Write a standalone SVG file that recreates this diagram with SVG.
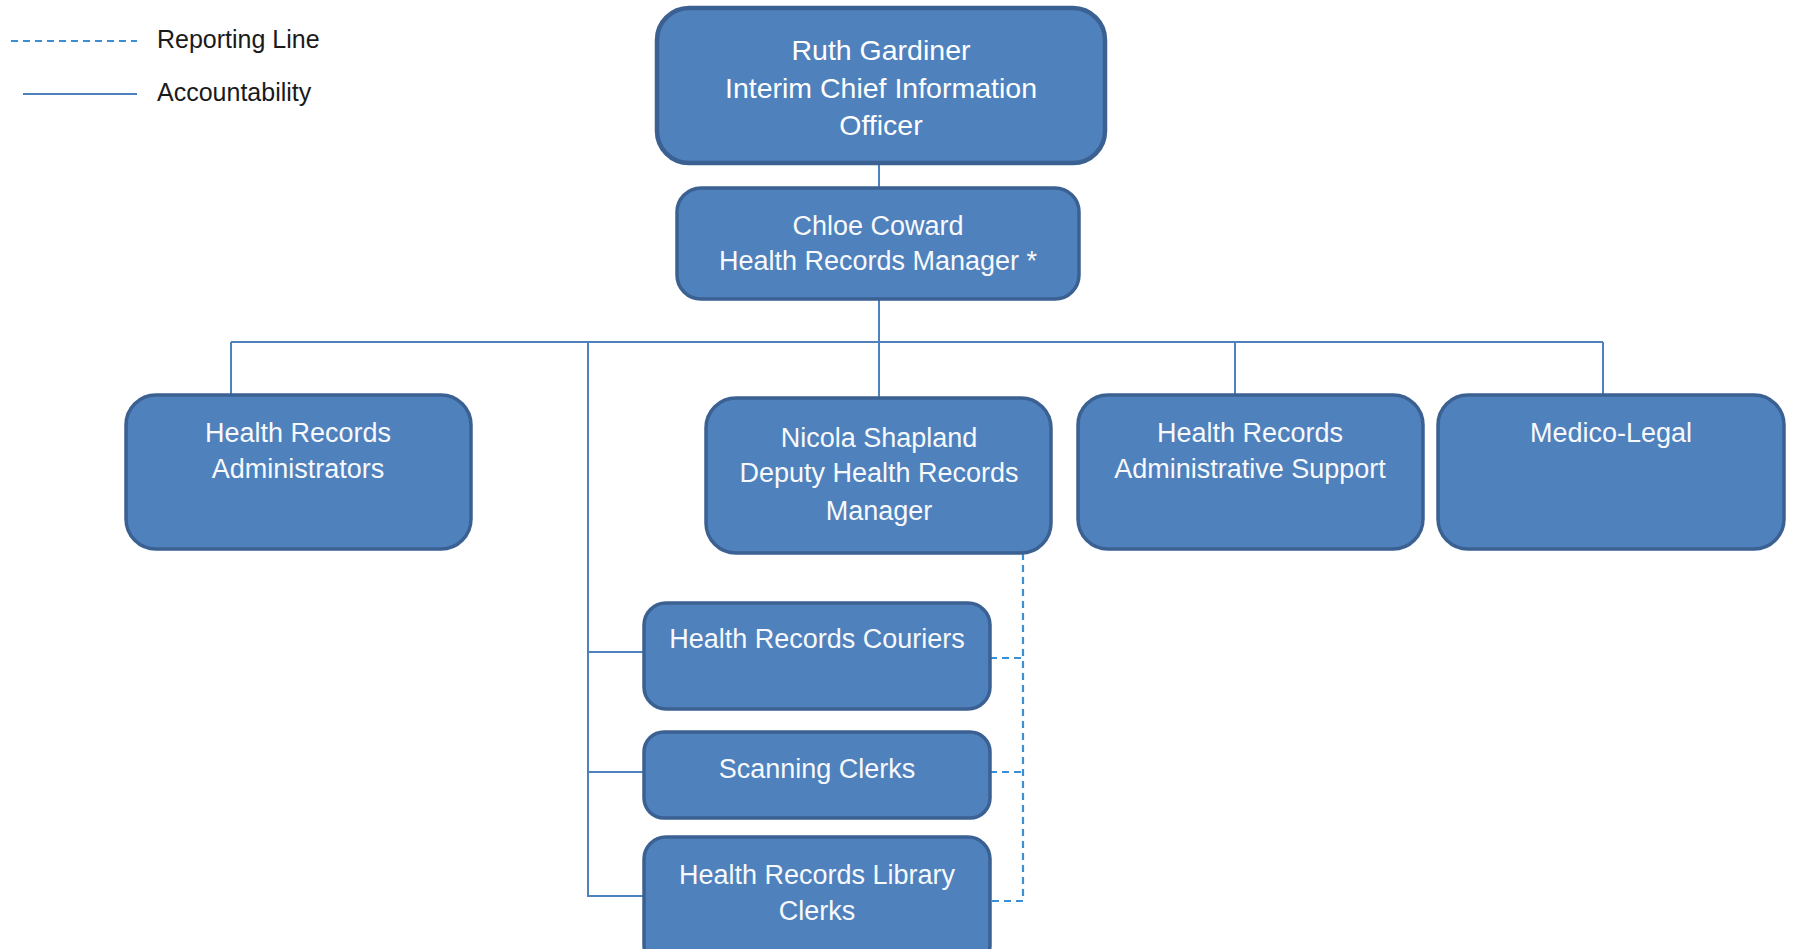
<svg xmlns="http://www.w3.org/2000/svg" width="1794" height="949" viewBox="0 0 1794 949">
<style>
.box{fill:#4f81bd;stroke:#3b6092;stroke-width:3.5}
.t{font-family:"Liberation Sans",Arial,sans-serif;font-size:27px;fill:#f7f9fc;text-anchor:middle}
.big{font-size:28.5px;fill:#ffffff}
.leg{font-family:"Liberation Sans",Arial,sans-serif;font-size:25px;fill:#1a1a1a}
.solid{fill:none;stroke:#4f81bd;stroke-width:2}
.dash{fill:none;stroke:#3d8fd4;stroke-width:2.2;stroke-dasharray:7 5}
</style>
<rect width="1794" height="949" fill="#ffffff"/>
<g id="legend">
<line class="dash" x1="11" y1="41" x2="137" y2="41"/>
<text class="leg" x="157" y="48">Reporting Line</text>
<line class="solid" x1="23" y1="94" x2="137" y2="94"/>
<text class="leg" x="157" y="101">Accountability</text>
</g>
<g id="connectors">
<path class="solid" d="M879 163V187"/>
<path class="solid" d="M879 299V397"/>
<path class="solid" d="M231 342H1603"/>
<path class="solid" d="M231 342V395"/>
<path class="solid" d="M1235 342V395"/>
<path class="solid" d="M1603 342V395"/>
<path class="solid" d="M588 342V896H644"/>
<path class="solid" d="M588 652H644"/>
<path class="solid" d="M588 772H644"/>
<path class="dash" d="M1023 553V901H990"/>
<path class="dash" d="M990 658H1023"/>
<path class="dash" d="M990 772H1023"/>
</g>
<g id="ruth">
<rect class="box" x="657" y="8" width="448" height="155" rx="32" style="stroke-width:4.5"/>
<text class="t big" x="881" y="60">Ruth Gardiner</text>
<text class="t big" x="881" y="98">Interim Chief Information</text>
<text class="t big" x="881" y="135">Officer</text>
</g>
<g id="chloe">
<rect class="box" x="677" y="188" width="402" height="111" rx="24"/>
<text class="t" x="878" y="235">Chloe Coward</text>
<text class="t" x="878" y="270">Health Records Manager *</text>
</g>
<g id="admins">
<rect class="box" x="126" y="395" width="345" height="154" rx="30"/>
<text class="t" x="298" y="442">Health Records</text>
<text class="t" x="298" y="478">Administrators</text>
</g>
<g id="nicola">
<rect class="box" x="706" y="398" width="345" height="155" rx="30"/>
<text class="t" x="879" y="447">Nicola Shapland</text>
<text class="t" x="879" y="482">Deputy Health Records</text>
<text class="t" x="879" y="520">Manager</text>
</g>
<g id="adminsupport">
<rect class="box" x="1078" y="395" width="345" height="154" rx="30"/>
<text class="t" x="1250" y="442">Health Records</text>
<text class="t" x="1250" y="478">Administrative Support</text>
</g>
<g id="medicolegal">
<rect class="box" x="1438" y="395" width="346" height="154" rx="30"/>
<text class="t" x="1611" y="442">Medico-Legal</text>
</g>
<g id="couriers">
<rect class="box" x="644" y="603" width="346" height="106" rx="22"/>
<text class="t" x="817" y="648">Health Records Couriers</text>
</g>
<g id="scanning">
<rect class="box" x="644" y="732" width="346" height="86" rx="20"/>
<text class="t" x="817" y="778">Scanning Clerks</text>
</g>
<g id="library">
<rect class="box" x="644" y="837" width="346" height="130" rx="22"/>
<text class="t" x="817" y="884">Health Records Library</text>
<text class="t" x="817" y="920">Clerks</text>
</g>
</svg>
